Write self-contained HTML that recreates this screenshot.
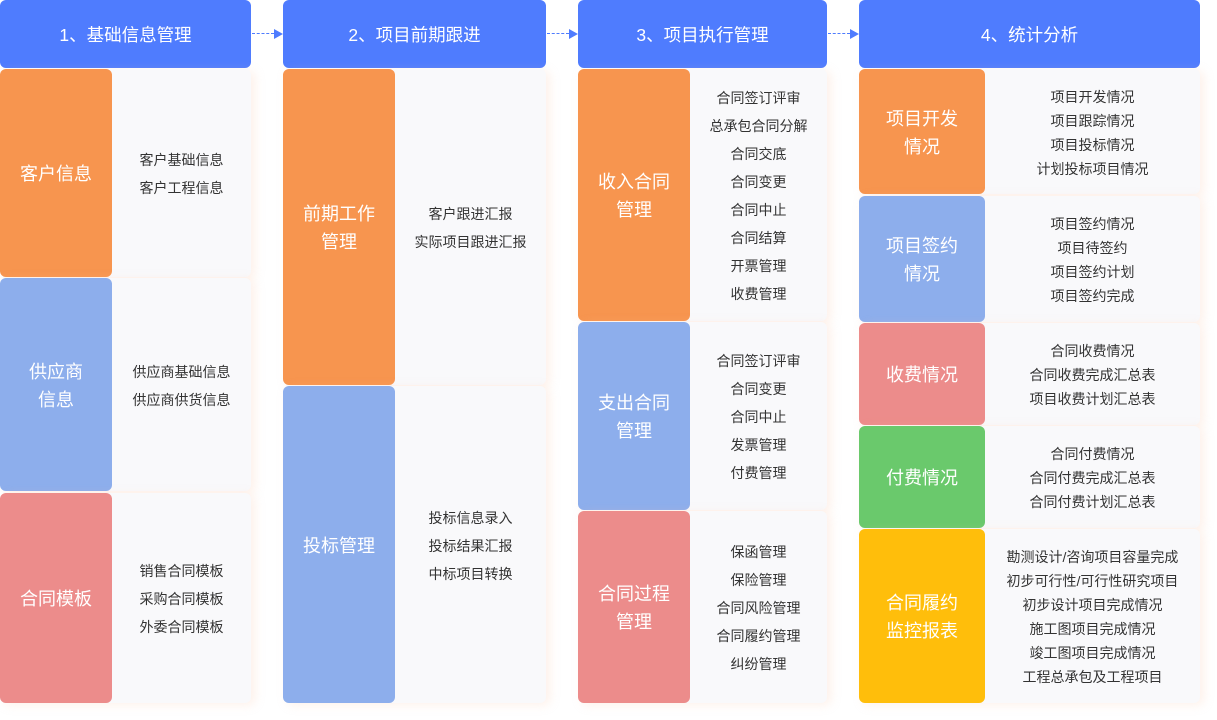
<!DOCTYPE html>
<html><head><meta charset="utf-8"><style>
body{margin:0;width:1217px;height:720px;background:#fff;position:relative;overflow:hidden;font-family:"Liberation Sans","Noto Sans CJK SC",sans-serif}
.h{position:absolute;top:0;height:68px;background:#4F7CFE;border-radius:6px;color:#fff;font-size:17.5px;display:flex;align-items:center;justify-content:center}
.p{position:absolute;background:#F9F9FB;border-radius:6px;box-shadow:4px 2px 10px rgba(250,200,170,.25);display:flex;flex-direction:column;align-items:center;justify-content:center;color:#333;font-size:14px;padding-top:2px}
.c{position:absolute;border-radius:6px;color:#fff;font-size:18px;line-height:28px;display:flex;align-items:center;justify-content:center;text-align:center;padding-top:2px;box-sizing:border-box}
.o{background:#F7954F}.b{background:#8DAEEC}.r{background:#EC8C8B}.g{background:#6AC96C}.y{background:#FFBE0B}
.p div{line-height:28px}.q div{line-height:24px}
.ar{position:absolute;top:33px;height:0;border-top:1px dashed #4F7CFE}
.ah{position:absolute;top:29px;width:0;height:0;border-left:9px solid #4F7CFE;border-top:5px solid transparent;border-bottom:5px solid transparent}
</style></head><body>
<div class="h" style="left:0;width:251px">1、基础信息管理</div>
<div class="h" style="left:283px;width:263px">2、项目前期跟进</div>
<div class="h" style="left:578px;width:249px">3、项目执行管理</div>
<div class="h" style="left:859px;width:341px">4、统计分析</div>
<div class="ar" style="left:252px;width:22px"></div><div class="ah" style="left:274px"></div>
<div class="ar" style="left:547px;width:22px"></div><div class="ah" style="left:569px"></div>
<div class="ar" style="left:828px;width:22px"></div><div class="ah" style="left:850px"></div>

<div class="p" style="left:0;top:69px;width:251px;height:208px;padding-left:112px;box-sizing:border-box"><div>客户基础信息</div><div>客户工程信息</div></div>
<div class="c o" style="left:0;top:69px;width:112px;height:208px">客户信息</div>
<div class="p" style="left:0;top:278px;width:251px;height:213px;padding-left:112px;box-sizing:border-box"><div>供应商基础信息</div><div>供应商供货信息</div></div>
<div class="c b" style="left:0;top:278px;width:112px;height:213px">供应商<br>信息</div>
<div class="p" style="left:0;top:493px;width:251px;height:210px;padding-left:112px;box-sizing:border-box"><div>销售合同模板</div><div>采购合同模板</div><div>外委合同模板</div></div>
<div class="c r" style="left:0;top:493px;width:112px;height:210px">合同模板</div>

<div class="p" style="left:283px;top:69px;width:263px;height:316px;padding-left:112px;box-sizing:border-box"><div>客户跟进汇报</div><div>实际项目跟进汇报</div></div>
<div class="c o" style="left:283px;top:69px;width:112px;height:316px">前期工作<br>管理</div>
<div class="p" style="left:283px;top:386px;width:263px;height:317px;padding-left:112px;box-sizing:border-box"><div>投标信息录入</div><div>投标结果汇报</div><div>中标项目转换</div></div>
<div class="c b" style="left:283px;top:386px;width:112px;height:317px">投标管理</div>

<div class="p" style="left:578px;top:69px;width:249px;height:252px;padding-left:112px;box-sizing:border-box"><div>合同签订评审</div><div>总承包合同分解</div><div>合同交底</div><div>合同变更</div><div>合同中止</div><div>合同结算</div><div>开票管理</div><div>收费管理</div></div>
<div class="c o" style="left:578px;top:69px;width:112px;height:252px">收入合同<br>管理</div>
<div class="p" style="left:578px;top:322px;width:249px;height:188px;padding-left:112px;box-sizing:border-box"><div>合同签订评审</div><div>合同变更</div><div>合同中止</div><div>发票管理</div><div>付费管理</div></div>
<div class="c b" style="left:578px;top:322px;width:112px;height:188px">支出合同<br>管理</div>
<div class="p" style="left:578px;top:511px;width:249px;height:192px;padding-left:112px;box-sizing:border-box"><div>保函管理</div><div>保险管理</div><div>合同风险管理</div><div>合同履约管理</div><div>纠纷管理</div></div>
<div class="c r" style="left:578px;top:511px;width:112px;height:192px">合同过程<br>管理</div>

<div class="p q" style="left:859px;top:69px;width:341px;height:125px;padding-left:126px;box-sizing:border-box"><div>项目开发情况</div><div>项目跟踪情况</div><div>项目投标情况</div><div>计划投标项目情况</div></div>
<div class="c o" style="left:859px;top:69px;width:126px;height:125px">项目开发<br>情况</div>
<div class="p q" style="left:859px;top:196px;width:341px;height:126px;padding-left:126px;box-sizing:border-box"><div>项目签约情况</div><div>项目待签约</div><div>项目签约计划</div><div>项目签约完成</div></div>
<div class="c b" style="left:859px;top:196px;width:126px;height:126px">项目签约<br>情况</div>
<div class="p q" style="left:859px;top:323px;width:341px;height:102px;padding-left:126px;box-sizing:border-box"><div>合同收费情况</div><div>合同收费完成汇总表</div><div>项目收费计划汇总表</div></div>
<div class="c r" style="left:859px;top:323px;width:126px;height:102px">收费情况</div>
<div class="p q" style="left:859px;top:426px;width:341px;height:102px;padding-left:126px;box-sizing:border-box"><div>合同付费情况</div><div>合同付费完成汇总表</div><div>合同付费计划汇总表</div></div>
<div class="c g" style="left:859px;top:426px;width:126px;height:102px">付费情况</div>
<div class="p q" style="left:859px;top:529px;width:341px;height:174px;padding-left:126px;box-sizing:border-box"><div>勘测设计/咨询项目容量完成</div><div>初步可行性/可行性研究项目</div><div>初步设计项目完成情况</div><div>施工图项目完成情况</div><div>竣工图项目完成情况</div><div>工程总承包及工程项目</div></div>
<div class="c y" style="left:859px;top:529px;width:126px;height:174px">合同履约<br>监控报表</div>
</body></html>
